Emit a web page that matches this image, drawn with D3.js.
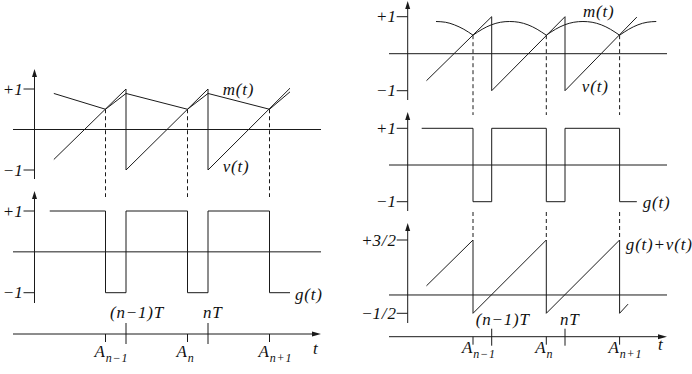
<!DOCTYPE html>
<html>
<head>
<meta charset="utf-8">
<script src="https://cdn.jsdelivr.net/npm/d3@7"></script>
<style>
  body { margin: 0; background: #fff; }
  text { font-family: "Liberation Serif", "Times New Roman", "DejaVu Serif", serif; font-size: 17px; fill: #111; letter-spacing: 0.8px; }
  .it { font-style: italic; }
  .ln { fill: none; stroke: #1a1a1a; stroke-width: 1; }
  .dash { fill: none; stroke: #1a1a1a; stroke-width: 1; stroke-dasharray: 4 3; }
</style>
</head>
<body>
<div id="chart"></div>
<script>
// time is measured in periods: (n-1)T = 1, nT = 2
const periods = [1, 2];
const periodLabels = ['(n−1)T', 'nT'];
const crossSubs = ['n−1', 'n', 'n+1'];

// left figure: linear m(t)
const leftCross = [0.75, 1.75, 2.75];
const leftV = [[0.12, -0.74], [1, 1], [1, -1], [2, 1], [2, -1], [3.0, 1.02]];
const leftM = [[0.12, 0.89], [0.75, 0.5], [1, 0.89], [1.75, 0.5], [2, 0.89], [2.75, 0.5], [3.0, 0.93]];
const leftG = [[0.07, 1], [0.75, 1], [0.75, -1], [1, -1], [1, 1], [1.75, 1], [1.75, -1],
  [2, -1], [2, 1], [2.75, 1], [2.75, -1], [3.0, -1]];

// right figure: arched m(t)
const rightCross = [0.745, 1.745, 2.745];
const rightV = [[0.11, -0.73], [1, 1], [1, -1], [2, 1], [2, -1], [2.98, 0.99]];
const rightM = [
  [[0.24, 0.87], [0.37, 0.85], [0.49, 0.78], [0.62, 0.66], [0.745, 0.5]],
  [[0.745, 0.5], [0.87, 0.66], [0.995, 0.78], [1.12, 0.85], [1.245, 0.87], [1.37, 0.85], [1.495, 0.78], [1.62, 0.66], [1.745, 0.5]],
  [[1.745, 0.5], [1.87, 0.66], [1.995, 0.78], [2.12, 0.85], [2.245, 0.87], [2.37, 0.85], [2.495, 0.78], [2.62, 0.66], [2.745, 0.5]],
  [[2.745, 0.5], [2.87, 0.66], [2.995, 0.78], [3.12, 0.85], [3.245, 0.87]],
];
const rightG = [[0.045, 1], [0.745, 1], [0.745, -1], [1, -1], [1, 1], [1.745, 1], [1.745, -1],
  [2, -1], [2, 1], [2.745, 1], [2.745, -1], [2.98, -1]];
const rightGV = [[0.11, 0.25], [0.745, 1.5], [0.745, -0.5], [1.745, 1.5], [1.745, -0.5],
  [2.745, 1.5], [2.745, -0.5], [2.86, -0.25]];

const unitTicks = [[1, '+', '1'], [-1, '−', '1']];
const halfTicks = [[1.5, '+', '3/2'], [-0.5, '−', '1/2']];

const svg = d3.select('#chart').append('svg')
  .attr('width', 692)
  .attr('height', 374);

function seg(x1, y1, x2, y2, cls = 'ln') {
  svg.append('line').attr('class', cls)
    .attr('x1', x1).attr('y1', y1).attr('x2', x2).attr('y2', y2);
}

function yAxis(x, top, bottom, ys, ticks) {
  seg(x, top + 5, x, bottom);
  svg.append('path').attr('d', `M${x},${top}L${x - 2.5},${top + 8}L${x + 2.5},${top + 8}Z`).attr('fill', '#1a1a1a');
  ticks.forEach(([v, sign, num]) => {
    seg(x - 11, ys(v), x, ys(v));
    const t = svg.append('text').attr('x', x - 11).attr('y', ys(v) + 5.5).attr('text-anchor', 'end');
    t.append('tspan').text(sign);
    t.append('tspan').attr('class', 'it').text(num);
  });
}

function plot(xs, ys, pts, curve = d3.curveLinear) {
  svg.append('path').attr('class', 'ln')
    .attr('d', d3.line().x(d => xs(d[0])).y(d => ys(d[1])).curve(curve)(pts));
}

function label(x, y, str) {
  svg.append('text').attr('class', 'it').attr('x', x).attr('y', y).text(str);
}

function timeAxis(xs, y, x0, x1, cross, up, down, labelY, crossY, tX) {
  seg(x0, y, x1 - 6, y);
  svg.append('path').attr('d', `M${x1},${y}L${x1 - 9},${y - 2.5}L${x1 - 9},${y + 2.5}Z`).attr('fill', '#1a1a1a');
  periods.forEach((p, i) => {
    seg(xs(p), y - up, xs(p), y + down);
    svg.append('text').attr('class', 'it')
      .attr('x', xs(p) + (i === 0 ? -16 : -5)).attr('y', labelY)
      .text(periodLabels[i]);
  });
  cross.forEach((c, i) => {
    seg(xs(c), y, xs(c), y + 8);
    const t = svg.append('text').attr('class', 'it').attr('x', xs(c) - 11).attr('y', crossY);
    t.append('tspan').text('A');
    t.append('tspan').attr('dy', 5).style('font-size', '12px').text(crossSubs[i]);
  });
  label(tX, crossY - 3, 't');
}

// ---------------- left figure ----------------
const xL = d3.scaleLinear().domain([0, 3]).range([44, 290]);
const yL1 = d3.scaleLinear().domain([-1, 1]).range([170, 89]);
const yL2 = d3.scaleLinear().domain([-1, 1]).range([292.7, 211]);
const axL = 34.5;

leftCross.forEach(c => seg(xL(c), yL1(0.5), xL(c), 197, 'dash'));

yAxis(axL, 69, 179, yL1, unitTicks);
seg(13, yL1(0), 321, yL1(0));
plot(xL, yL1, leftM);
plot(xL, yL1, leftV);
label(xL(2.18), yL1(0.85), 'm(t)');
label(xL(2.18), yL1(-1.06), 'v(t)');

yAxis(axL, 191, 303, yL2, unitTicks);
seg(13, yL2(0), 321, yL2(0));
plot(xL, yL2, leftG);
label(xL(3.06), yL2(-1.18), 'g(t)');

timeAxis(xL, 334, 13, 321, leftCross, 11, 10, 318, 357, 313);

// ---------------- right figure ----------------
const xR = d3.scaleLinear().domain([0, 3]).range([418.4, 638.3]);
const yR1 = d3.scaleLinear().domain([-1, 1]).range([90.7, 16.7]);
const yR2 = d3.scaleLinear().domain([-1, 1]).range([201.7, 128.3]);
const yR3 = d3.scaleLinear().domain([-0.5, 1.5]).range([313.3, 240]);
const axR = 407.7;

rightCross.forEach((c) => {
  seg(xR(c), yR1(0.5), xR(c), 115, 'dash');
  seg(xR(c), 212, xR(c), yR3(1.5), 'dash');
});

yAxis(axR, 1, 100, yR1, unitTicks);
seg(389, yR1(0), 667, yR1(0));
rightM.forEach(arch => plot(xR, yR1, arch, d3.curveNatural));
plot(xR, yR1, rightV);
label(xR(2.245), yR1(1.0), 'm(t)');
label(xR(2.23), yR1(-1.03), 'v(t)');

yAxis(axR, 112, 211, yR2, unitTicks);
seg(389, yR2(0), 667, yR2(0));
plot(xR, yR2, rightG);
label(xR(3.06), yR2(-1.17), 'g(t)');

yAxis(axR, 223, 323, yR3, halfTicks);
seg(389, yR3(0), 667, yR3(0));
plot(xR, yR3, rightGV);
label(xR(2.83), yR3(1.23), 'g(t)+v(t)');

timeAxis(xR, 336.7, 389, 667, rightCross, 8, 9, 325, 353, 658);
</script>
</body>
</html>
